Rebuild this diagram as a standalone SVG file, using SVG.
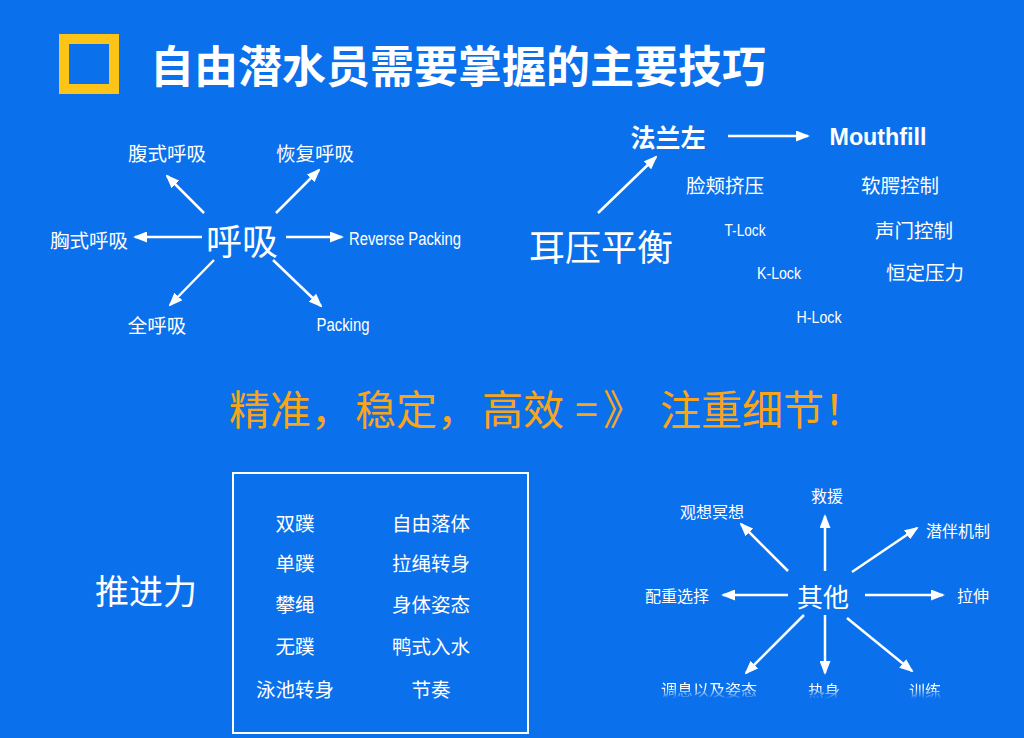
<svg xmlns="http://www.w3.org/2000/svg" width="1024" height="738" viewBox="0 0 1024 738">
<defs>
<style>
.cjk{font-family:"Noto Sans CJK SC","Noto Sans",sans-serif;fill:#fff;}
.lat{font-family:"Liberation Sans","Noto Sans",sans-serif;fill:#fff;}
.c{text-anchor:middle;dominant-baseline:central;}
.s{font-size:19.5px;}
.m{font-size:16px;}
.arr{stroke:#fff;stroke-width:2.5;fill:none;marker-end:url(#ah);}
</style>
<marker id="ah" markerUnits="userSpaceOnUse" markerWidth="14" markerHeight="11" refX="12" refY="5.5" orient="auto" viewBox="0 0 14 11">
<path d="M0,0 L14,5.5 L0,11 z" fill="#fff"/>
</marker>
<linearGradient id="fade" x1="0" y1="0" x2="0" y2="1" gradientUnits="objectBoundingBox">
<stop offset="0" stop-color="#fff"/>
<stop offset="0.45" stop-color="#fff"/>
<stop offset="1" stop-color="#fff" stop-opacity="0"/>
</linearGradient>
<mask id="fm" maskUnits="userSpaceOnUse" x="0" y="0" width="1024" height="738">
<rect x="600" y="679" width="400" height="20" fill="url(#fade)"/>
</mask>
</defs>
<rect x="0" y="0" width="1024" height="738" fill="#0B70EB"/>

<g id="title">
<rect x="64" y="39" width="50" height="50" fill="none" stroke="#FBC416" stroke-width="10"/>
<text class="cjk c" x="458" y="64" font-size="44" font-weight="bold">自由潜水员需要掌握的主要技巧</text>
</g>

<g id="connectors">
<line class="arr" x1="204" y1="213" x2="167" y2="176"/>
<line class="arr" x1="276" y1="213" x2="319" y2="170"/>
<line class="arr" x1="202" y1="237" x2="135" y2="237"/>
<line class="arr" x1="286" y1="237" x2="342" y2="237"/>
<line class="arr" x1="214" y1="260" x2="170" y2="305"/>
<line class="arr" x1="273" y1="260" x2="321" y2="306"/>
<line class="arr" x1="598" y1="213" x2="656" y2="157"/>
<line class="arr" x1="728" y1="136" x2="808" y2="136"/>
<line class="arr" x1="825" y1="571" x2="825" y2="516"/>
<line class="arr" x1="788" y1="571" x2="741" y2="524"/>
<line class="arr" x1="852" y1="572" x2="917" y2="528"/>
<line class="arr" x1="788" y1="595" x2="723" y2="595"/>
<line class="arr" x1="865" y1="595" x2="943" y2="595"/>
<line class="arr" x1="804" y1="615" x2="746" y2="673"/>
<line class="arr" x1="825" y1="615" x2="825" y2="673"/>
<line class="arr" x1="847" y1="618" x2="912" y2="671"/>
</g>

<g id="breathing">
<text class="cjk c" x="242" y="239" font-size="36">呼吸</text>
<text class="cjk c s" x="167" y="152">腹式呼吸</text>
<text class="cjk c s" x="315" y="152">恢复呼吸</text>
<text class="cjk c s" x="89" y="239">胸式呼吸</text>
<text class="lat c" x="405" y="239" font-size="18" textLength="112" lengthAdjust="spacingAndGlyphs">Reverse Packing</text>
<text class="cjk c s" x="157" y="324">全呼吸</text>
<text class="lat c" x="343" y="325" font-size="18" textLength="53" lengthAdjust="spacingAndGlyphs">Packing</text>
</g>

<g id="ear">
<text class="cjk c" x="601" y="245" font-size="36">耳压平衡</text>
<text class="cjk c" x="668" y="136" font-size="25" font-weight="bold">法兰左</text>
<text class="lat c" x="878" y="136" font-size="24" font-weight="bold" textLength="97" lengthAdjust="spacingAndGlyphs">Mouthfill</text>
<text class="cjk c s" x="725" y="184">脸颊挤压</text>
<text class="cjk c s" x="900" y="184">软腭控制</text>
<text class="lat c" x="745" y="230" font-size="17" textLength="41" lengthAdjust="spacingAndGlyphs">T-Lock</text>
<text class="cjk c s" x="914" y="229">声门控制</text>
<text class="lat c" x="779" y="273" font-size="17" textLength="44" lengthAdjust="spacingAndGlyphs">K-Lock</text>
<text class="cjk c s" x="925" y="271">恒定压力</text>
<text class="lat c" x="819" y="317" font-size="17" textLength="45" lengthAdjust="spacingAndGlyphs">H-Lock</text>
</g>

<g id="slogan">
<text class="cjk" font-size="41" style="fill:#F8A51C;dominant-baseline:central" y="407"><tspan x="229">精准，</tspan><tspan x="355">稳定，</tspan><tspan x="482">高效</tspan><tspan x="575">=</tspan><tspan x="603">》</tspan><tspan x="660">注重细节！</tspan></text>
</g>

<g id="propulsion">
<text class="cjk c" x="146" y="589" font-size="34">推进力</text>
<rect x="233" y="473" width="295" height="260" fill="none" stroke="#fff" stroke-width="2"/>
<text class="cjk c s" x="295" y="522">双蹼</text>
<text class="cjk c s" x="295" y="562">单蹼</text>
<text class="cjk c s" x="295" y="603">攀绳</text>
<text class="cjk c s" x="295" y="645">无蹼</text>
<text class="cjk c s" x="295" y="688">泳池转身</text>
<text class="cjk c s" x="431" y="522">自由落体</text>
<text class="cjk c s" x="431" y="562">拉绳转身</text>
<text class="cjk c s" x="431" y="603">身体姿态</text>
<text class="cjk c s" x="431" y="645">鸭式入水</text>
<text class="cjk c s" x="431" y="688">节奏</text>
</g>

<g id="others">
<text class="cjk c" x="823" y="595" font-size="26">其他</text>
<text class="cjk c m" x="827" y="495">救援</text>
<text class="cjk c m" x="712" y="511">观想冥想</text>
<text class="cjk c m" x="958" y="530">潜伴机制</text>
<text class="cjk c m" x="677" y="595">配重选择</text>
<text class="cjk c m" x="973" y="595">拉伸</text>
<g mask="url(#fm)">
<text class="cjk c m" x="709" y="689">调息以及姿态</text>
<text class="cjk c m" x="824" y="690">热身</text>
<text class="cjk c m" x="925" y="690">训练</text>
</g>
</g>
</svg>
